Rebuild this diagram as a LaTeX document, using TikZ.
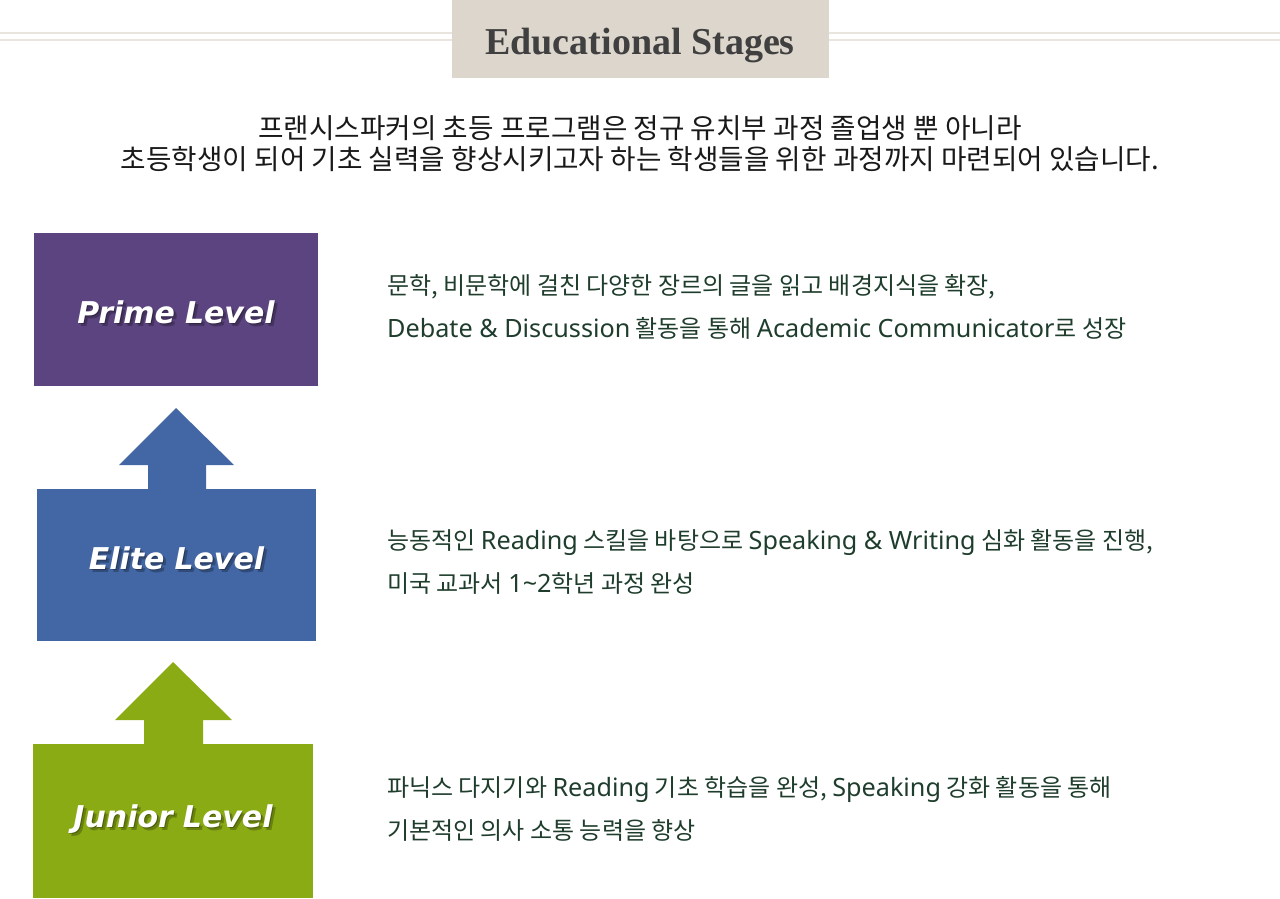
\documentclass[tikz,border=0pt]{standalone}
\usepackage{fontspec}
\usepackage{xcolor}
\usepackage{tikz}

\newfontfamily\kofont{Noto Sans CJK KR}
\newfontfamily\latfont{Noto Sans}
\newfontfamily\titlefont{Liberation Serif}
\newfontfamily\lvlfont{DejaVu Sans}

\definecolor{primecol}{HTML}{5C4480}
\definecolor{elitecol}{HTML}{4366A4}
\definecolor{juniorcol}{HTML}{8AAB14}
\definecolor{titlebg}{HTML}{DDD6CC}
\definecolor{rulecol}{HTML}{E9E5DE}
\definecolor{titletxt}{HTML}{404040}
\definecolor{desccol}{HTML}{1F3D2C}

\newcommand{\lat}[1]{{\latfont\fontsize{25.2}{43}\selectfont #1}}

\tikzset{
    lvlbox/.style={minimum width=282pt, minimum height=152pt, inner sep=0pt},
    lvltext/.style={font=\lvlfont\bfseries\itshape\fontsize{30}{36}\selectfont, text=white},
    lvlshadow/.style={font=\lvlfont\bfseries\itshape\fontsize{30}{36}\selectfont, text=black, opacity=0.25},
    desc/.style={anchor=west, align=left, inner sep=0pt, text=desccol,
        font=\kofont\fontsize{24}{43}\selectfont},
}

\begin{document}
\begin{tikzpicture}[x=1pt, y=-1pt]
    \useasboundingbox (0,0) rectangle (1280,898);

    % 제목 뒤의 두 줄
    \draw[rulecol, line width=2pt] (0,33) -- (1280,33);
    \draw[rulecol, line width=1.5pt] (0,40) -- (1280,40);

    % 제목 상자
    \node[fill=titlebg, minimum width=377pt, minimum height=78pt, anchor=north, inner sep=0pt] (title) at (640,0) {};
    \node[text=titletxt, font=\titlefont\bfseries\fontsize{38}{44}\selectfont] (titletxt) at (640,46) {Educational Stages};

    % 소개 문장
    \node[align=center, font=\kofont\fontsize{27.7}{31}\selectfont, text=black!90] (intro) at (640,144)
        {프랜시스파커의 초등 프로그램은 정규 유치부 과정 졸업생 뿐 아니라\\
         초등학생이 되어 기초 실력을 향상시키고자 하는 학생들을 위한 과정까지 마련되어 있습니다.};

    % 세 단계 상자
    \node[lvlbox, fill=primecol, minimum width=284pt, minimum height=153pt] (prime) at (176,309.5) {};
    \node[lvlbox, fill=elitecol, minimum width=279pt, minimum height=152pt] (elite) at (176.5,564.5) {};
    \node[lvlbox, fill=juniorcol, minimum width=280pt, minimum height=154pt] (junior) at (173,821) {};

    % 위로 향하는 화살표
    \fill[elitecol] (148,490) -- (148,465) -- (119,465) -- (176,408) -- (234,465) -- (206,465) -- (206,490) -- cycle;
    \fill[juniorcol] (144,745) -- (144,720) -- (115,720) -- (173,662) -- (232,720) -- (203,720) -- (203,745) -- cycle;

    % 단계 이름 (그림자 먼저)
    \foreach \dx/\dy in {1/1, 3/3} {
        \node[lvlshadow, xshift=\dx pt, yshift=-\dy pt] at ([yshift=-2.5pt]prime.center) {Prime\,\,Level};
        \node[lvlshadow, xshift=\dx pt, yshift=-\dy pt] at ([yshift=6.5pt]elite.center) {Elite\,\,Level};
        \node[lvlshadow, xshift=\dx pt, yshift=-\dy pt] at ([yshift=2pt]junior.center) {Junior\,\,Level};
    }
    \node[lvltext] (primelbl) at ([yshift=-2.5pt]prime.center) {Prime\,\,Level};
    \node[lvltext] (elitelbl) at ([yshift=6.5pt]elite.center) {Elite\,\,Level};
    \node[lvltext] (juniorlbl) at ([yshift=2pt]junior.center) {Junior\,\,Level};

    % 단계 설명
    \node[desc] (primedesc) at (387,306.5)
        {문학, 비문학에 걸친 다양한 장르의 글을 읽고 배경지식을 확장,\\
         \lat{Debate \& Discussion} 활동을 통해 \lat{Academic Communicator}로 성장};
    \node[desc] (elitedesc) at (387,562)
        {능동적인 \lat{Reading} 스킬을 바탕으로 \lat{Speaking \& Writing} 심화 활동을 진행,\\
         미국 교과서 \lat{1\textasciitilde2}학년 과정 완성};
    \node[desc] (juniordesc) at (387,809)
        {파닉스 다지기와 \lat{Reading} 기초 학습을 완성, \lat{Speaking} 강화 활동을 통해\\
         기본적인 의사 소통 능력을 향상};
\end{tikzpicture}
\end{document}
